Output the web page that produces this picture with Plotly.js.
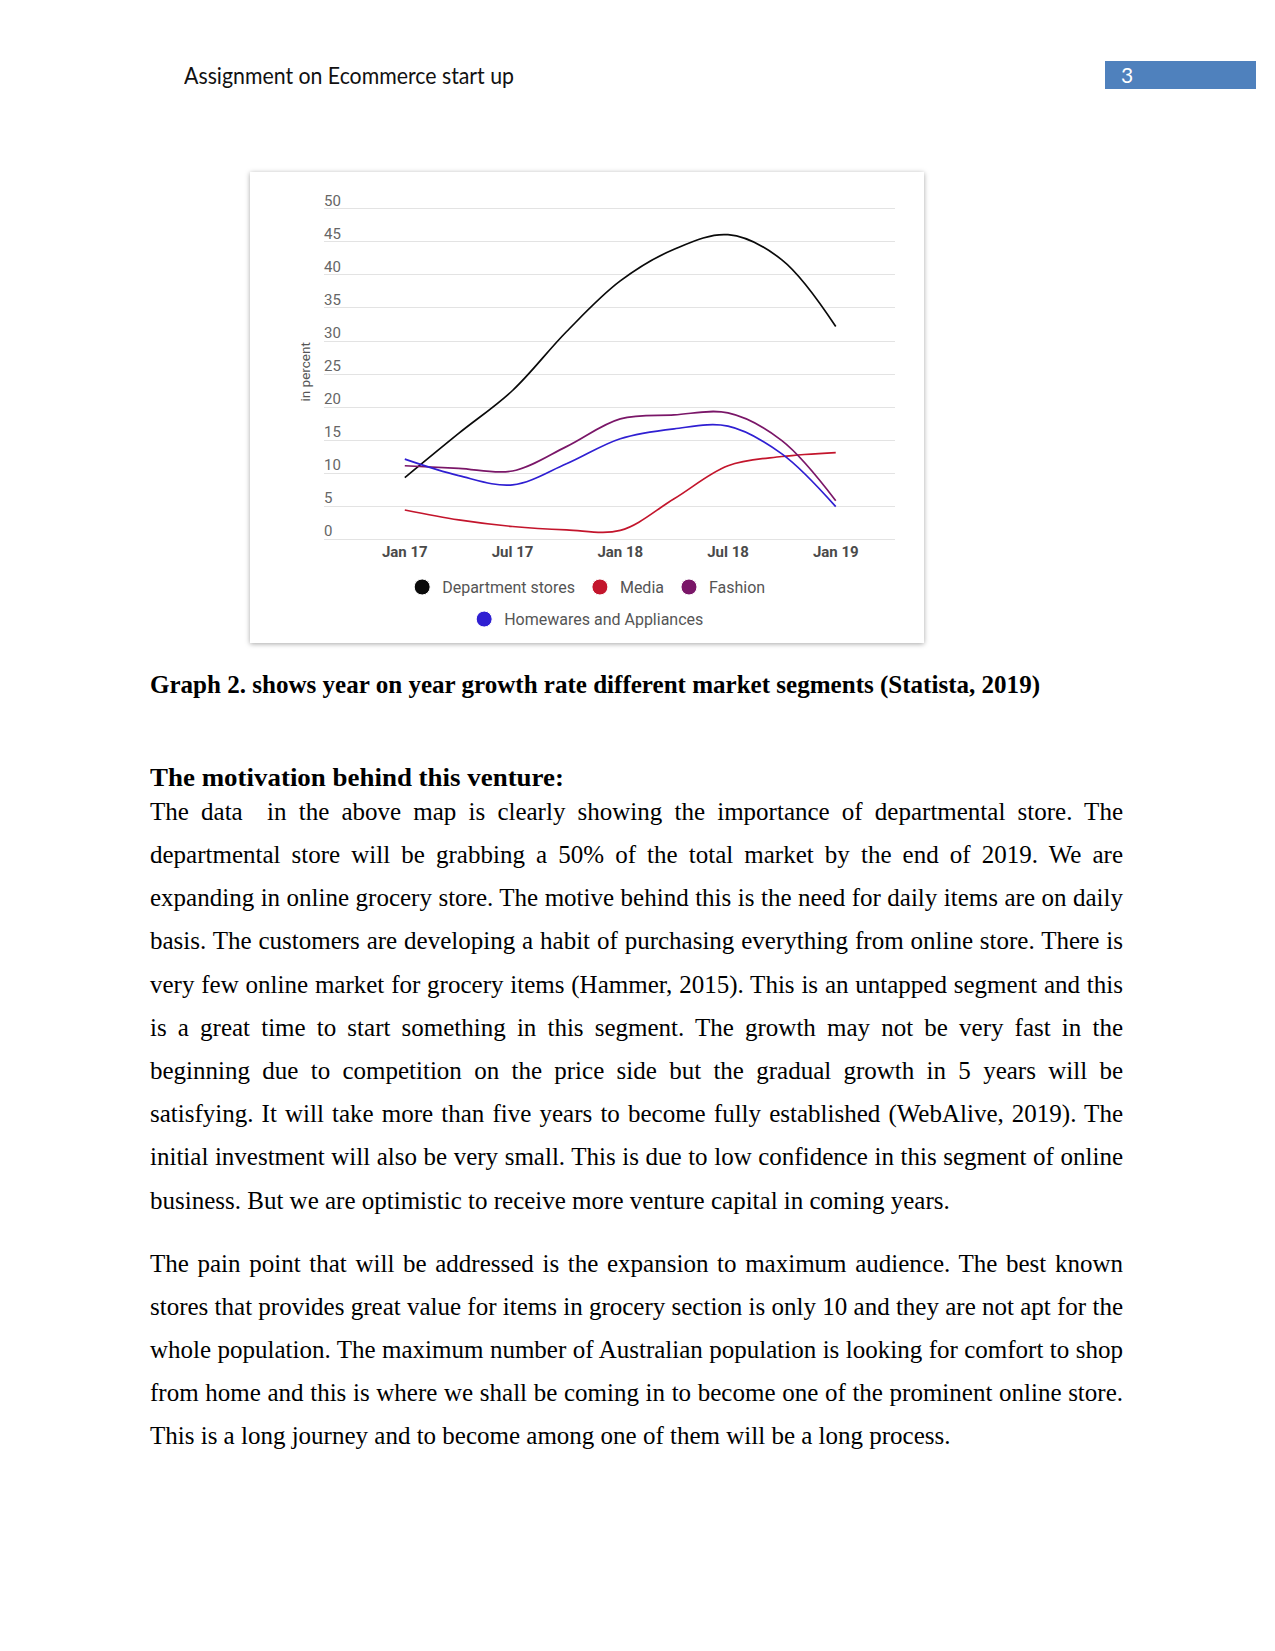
<!DOCTYPE html>
<html>
<head>
<meta charset="utf-8">
<script src="https://cdn.plot.ly/plotly-3.0.1.min.js"></script>
<style>
  html, body { margin:0; padding:0; background:#fff; }
  body { width:1275px; height:1651px; position:relative; overflow:hidden; }
  .abs { position:absolute; white-space:pre; transform-origin:0 50%; }
  #header { left:184px; top:61px; font-family:Lato, "Open Sans", sans-serif; font-size:23px; line-height:28px; color:#111; }
  #pagebox { position:absolute; left:1105px; top:61px; width:151px; height:28px; background:#4F81BD; }
  #pagenum { position:absolute; left:16px; top:0; line-height:28px; font-family:Lato, sans-serif; font-size:21px; color:#fff; }
  #chartwrap { position:absolute; left:250px; top:172px; width:674px; height:471px; background:#fff;
               box-shadow: 0 1px 5px rgba(0,0,0,0.35); }
  #chart { width:674px; height:471px; }
  .serif { font-family:"Liberation Serif","Times New Roman",serif; color:#000; }
  .bold { font-weight:bold; }
  .line { font-size:25px; line-height:40px; }
</style>
</head>
<body>
<div id="header" class="abs">Assignment on Ecommerce start up</div>
<div id="pagebox"><div id="pagenum">3</div></div>
<div id="chartwrap"><div id="chart"></div></div>
<div id="text"></div>
<script>
// ---------- chart data ----------
const quarters   = ["Jan 17","Apr 17","Jul 17","Oct 17","Jan 18","Apr 18","Jul 18","Oct 18","Jan 19"];
const tickLabels = ["Jan 17","Jul 17","Jan 18","Jul 18","Jan 19"];
const seriesNames = ["Department stores","Media","Fashion","Homewares and Appliances"];
const deptStores = [9.3, 16.0, 22.5, 31.4, 39.1, 43.9, 46.1, 42.3, 32.2];
const media      = [4.4, 2.9, 1.9, 1.4, 1.3, 6.1, 11.1, 12.5, 13.1];
const fashion    = [11.1, 10.7, 10.3, 14.0, 18.2, 18.8, 19.1, 14.9, 5.8];
const homewares  = [12.1, 9.6, 8.2, 11.4, 15.2, 16.7, 17.1, 12.9, 4.9];
const yTicks     = [0,5,10,15,20,25,30,35,40,45,50];

const colors = ["#0a0a0a", "#c3152c", "#7a1668", "#2f1fd2"];
const allSeries = [deptStores, media, fashion, homewares];

const traces = [];
allSeries.forEach((vals, i) => {
  traces.push({
    type:"scatter", mode:"lines", x:quarters, y:vals, name:seriesNames[i],
    line:{color:colors[i], width:1.7, shape:"spline", smoothing:1},
    showlegend:false, hoverinfo:"skip"
  });
});
// legend entries (circle symbols); data markers are made vanishingly small via sizeref
allSeries.forEach((vals, i) => {
  traces.push({
    type:"scatter", mode:"markers", x:quarters, y:vals, name:seriesNames[i],
    marker:{color:colors[i], opacity:1, size:vals.map(() => 17), sizeref:1000, sizemode:"diameter"},
    showlegend:true, hoverinfo:"skip",
    legend: i < 3 ? "legend" : "legend2"
  });
});

const legendFont = {family:"Roboto, sans-serif", size:16, color:"#555"};
const layout = {
  width:674, height:471,
  margin:{l:74, r:29, t:35, b:102, autoexpand:false},
  paper_bgcolor:"#fff", plot_bgcolor:"#fff",
  font:{family:"Roboto, sans-serif"},
  xaxis:{
    type:"category", range:[-1.5, 9.1],
    tickvals:tickLabels, ticktext:tickLabels,
    showgrid:false, zeroline:false, showline:false, ticks:"",
    tickfont:{family:"Roboto, sans-serif", size:15, color:"#4a4a4a", weight:"bold"}
  },
  yaxis:{
    range:[-0.3, 50.3], tickvals:yTicks, ticktext:yTicks.map(String),
    showgrid:true, gridcolor:"#e3e3e3", gridwidth:1,
    zeroline:false, showline:false, ticks:"",
    ticklabelposition:"inside top", ticklabeloverflow:"allow",
    ticklabelshift:2, ticklabelstandoff:-3,
    tickfont:{family:"Roboto, sans-serif", size:15, color:"#666"}
  },
  legend:{orientation:"h", x:0.46, xanchor:"center", y:-0.138, yanchor:"middle",
          font:legendFont, itemwidth:30, bgcolor:"rgba(0,0,0,0)"},
  legend2:{orientation:"h", x:0.46, xanchor:"center", y:-0.234, yanchor:"middle",
          font:legendFont, itemwidth:30, bgcolor:"rgba(0,0,0,0)"},
  annotations:[{
    text:"in percent", xref:"paper", yref:"paper", x:-0.033, y:0.505,
    xanchor:"center", yanchor:"middle", textangle:-90, showarrow:false,
    font:{family:"Roboto, sans-serif", size:13.5, color:"#555"}
  }]
};
Plotly.newPlot("chart", traces, layout, {staticPlot:true, displayModeBar:false});

// ---------- page text ----------
const caption = "Graph 2. shows year on year growth rate different market segments (Statista, 2019)";
const heading = "The motivation behind this venture:";
const para1 = [
  "The data  in the above map is clearly showing the importance of departmental store. The",
  "departmental store will be grabbing a 50% of the total market by the end of 2019. We are",
  "expanding in online grocery store. The motive behind this is the need for daily items are on daily",
  "basis. The customers are developing a habit of purchasing everything from online store. There is",
  "very few online market for grocery items (Hammer, 2015). This is an untapped segment and this",
  "is a great time to start something in this segment. The growth may not be very fast in the",
  "beginning due to competition on the price side but the gradual growth in 5 years will be",
  "satisfying. It will take more than five years to become fully established (WebAlive, 2019). The",
  "initial investment will also be very small. This is due to low confidence in this segment of online",
  "business. But we are optimistic to receive more venture capital in coming years."
];
const para2 = [
  "The pain point that will be addressed is the expansion to maximum audience. The best known",
  "stores that provides great value for items in grocery section is only 10 and they are not apt for the",
  "whole population. The maximum number of Australian population is looking for comfort to shop",
  "from home and this is where we shall be coming in to become one of the prominent online store.",
  "This is a long journey and to become among one of them will be a long process."
];

const textDiv = document.getElementById("text");
const LEFT = 150, WIDTH = 973;
function addLine(str, centerY, cls, mode, target) {
  const d = document.createElement("div");
  d.className = "abs serif line " + cls;
  d.textContent = str;
  d.style.left = LEFT + "px";
  d.style.top = (centerY - 20) + "px";
  d.dataset.mode = mode;
  d.dataset.w = target;
  textDiv.appendChild(d);
}
addLine(caption, 685, "bold", "fit", 890);
addLine(heading, 778, "bold", "fit", 414);
para1.forEach((s, i) => addLine(s, 811.7 + i * 43.2, "", i < para1.length - 1 ? "justify" : "fitlast", WIDTH));
para2.forEach((s, i) => addLine(s, 1264.4 + i * 43.0, "", i < para2.length - 1 ? "justify" : "fitlast", WIDTH));

function layoutText() {
  document.querySelectorAll("#text .abs").forEach(el => {
    const mode = el.dataset.mode, target = +el.dataset.w;
    el.style.transform = ""; el.style.wordSpacing = "";
    const w = el.getBoundingClientRect().width;
    if (mode === "justify") {
      const n = (el.textContent.match(/ /g) || []).length;
      if (w < target && n > 0) el.style.wordSpacing = ((target - w) / n) + "px";
      else if (w > target) el.style.transform = "scaleX(" + (target / w) + ")";
    } else if (mode === "fit") {
      el.style.transform = "scaleX(" + (target / w) + ")";
    } else if (mode === "fitlast") {
      if (w > target) el.style.transform = "scaleX(" + (target / w) + ")";
    }
  });
  const h = document.getElementById("header");
  h.style.transform = "";
  const hw = h.getBoundingClientRect().width;
  h.style.transform = "scaleX(" + (330 / hw) + ")";
}
if (document.fonts && document.fonts.ready) document.fonts.ready.then(layoutText); else layoutText();
</script>
</body>
</html>
